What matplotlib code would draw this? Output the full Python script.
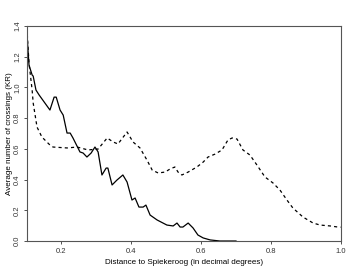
import numpy as np
import matplotlib.pyplot as plt

plt.rcParams['font.family'] = ['Liberation Sans', 'DejaVu Sans']

# solid line
x_solid = [0.101, 0.107, 0.116, 0.119, 0.127, 0.136, 0.167, 0.179, 0.185, 0.196,
           0.205, 0.216, 0.225, 0.233, 0.253, 0.262, 0.273, 0.285, 0.296, 0.305,
           0.316, 0.328, 0.333, 0.345, 0.359, 0.376, 0.388, 0.402, 0.411, 0.422,
           0.434, 0.442, 0.454, 0.474, 0.502, 0.520, 0.531, 0.540, 0.548, 0.563,
           0.577, 0.591, 0.606, 0.626, 0.654, 0.700]
y_solid = [1.354, 1.146, 1.081, 1.074, 0.983, 0.951, 0.853, 0.937, 0.937, 0.853,
           0.820, 0.703, 0.703, 0.671, 0.580, 0.573, 0.547, 0.573, 0.612, 0.580,
           0.430, 0.475, 0.475, 0.365, 0.397, 0.430, 0.384, 0.267, 0.280, 0.221,
           0.221, 0.234, 0.169, 0.137, 0.104, 0.098, 0.117, 0.091, 0.091, 0.117,
           0.085, 0.039, 0.020, 0.007, 0.0, 0.0]

# dashed line
x_dash = [0.101, 0.107, 0.116, 0.119, 0.130, 0.144, 0.167, 0.176, 0.216, 0.245,
          0.276, 0.305, 0.331, 0.348, 0.362, 0.388, 0.405, 0.425, 0.445, 0.460,
          0.477, 0.497, 0.511, 0.525, 0.534, 0.545, 0.563, 0.588, 0.606, 0.620,
          0.640, 0.660, 0.677, 0.689, 0.703, 0.720, 0.740, 0.760, 0.783, 0.806,
          0.826, 0.846, 0.863, 0.892, 0.921, 0.941, 0.970, 0.992, 1.000]
y_dash = [1.387, 1.159, 0.983, 0.899, 0.742, 0.677, 0.625, 0.612, 0.606, 0.612,
          0.593, 0.599, 0.671, 0.645, 0.632, 0.710, 0.645, 0.606, 0.527, 0.462,
          0.443, 0.449, 0.469, 0.482, 0.449, 0.430, 0.449, 0.482, 0.514, 0.547,
          0.566, 0.593, 0.658, 0.671, 0.664, 0.593, 0.560, 0.495, 0.417, 0.378,
          0.332, 0.267, 0.215, 0.156, 0.117, 0.104, 0.098, 0.091, 0.090]

xticks = [0.2, 0.4, 0.6, 0.8, 1.0]
yticks = [0.0, 0.2, 0.4, 0.6, 0.8, 1.0, 1.2, 1.4]

fig = plt.figure(figsize=(3.54, 2.74), dpi=100)
ax = fig.add_axes([0.075, 0.1204, 0.8874, 0.7846])

ax.plot(x_solid, y_solid, color='black', lw=0.9)
ax.plot(x_dash, y_dash, color='black', lw=0.9, dashes=(2.5, 2.5))

ax.set_xlim(0.1, 1.0)
ax.set_ylim(0.0, 1.4)
ax.set_xticks(xticks)
ax.set_xticklabels(['%.1f' % v for v in xticks])
ax.set_yticks(yticks)
ax.set_yticklabels(['%.1f' % v for v in yticks], rotation=90, va='center')
ax.tick_params(labelsize=5.5, length=2.5, width=0.6, pad=2.5, colors='#333333')
ax.tick_params(axis='y', pad=1.5)

for s in ax.spines.values():
    s.set_color('#555555')
    s.set_linewidth(0.8)

ax.set_xlabel('Distance to Spiekeroog (in decimal degrees)', fontsize=5.8, labelpad=3)
ax.set_ylabel('Average number of crossings (KR)', fontsize=5.8, labelpad=1)

fig.savefig('out.png', dpi=100)
